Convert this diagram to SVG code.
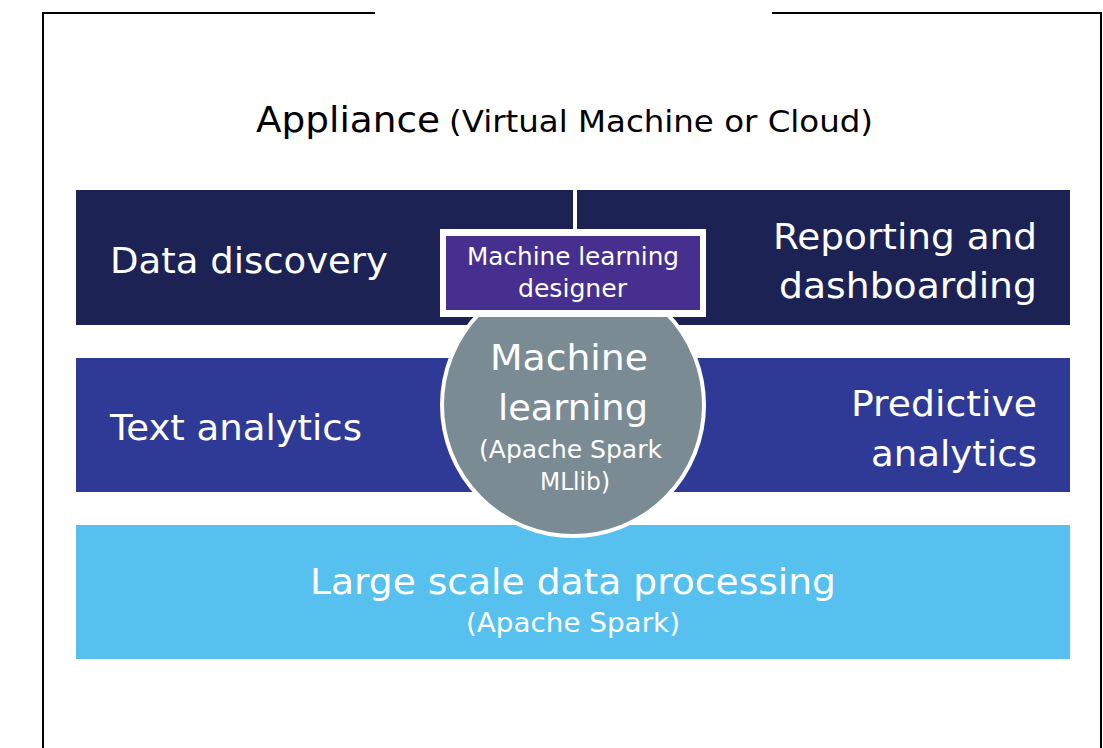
<svg xmlns="http://www.w3.org/2000/svg" width="1103" height="748" viewBox="0 0 1103 748">
<style>
.t{font-family:"DejaVu Sans","Liberation Sans",Arial,sans-serif;fill:#ffffff}
.k{font-family:"DejaVu Sans","Liberation Sans",Arial,sans-serif;fill:#000000}
.frame{stroke:#000;stroke-width:2;fill:none}
</style>
<rect width="1103" height="748" fill="#ffffff"/>
<g id="frame">
<path class="frame" d="M43,748 V13 H375"/>
<path class="frame" d="M772,13 H1101 V748"/>
</g>
<g id="title">
<text class="k" x="256" y="132" font-size="36" textLength="184" lengthAdjust="spacingAndGlyphs">Appliance</text>
<text class="k" x="449" y="132" font-size="30" textLength="424" lengthAdjust="spacingAndGlyphs">(Virtual Machine or Cloud)</text>
</g>
<g id="data-discovery">
<rect x="76" y="190" width="497" height="135" fill="#1c2254"/>
<text class="t" x="110" y="273" font-size="36" textLength="278" lengthAdjust="spacingAndGlyphs">Data discovery</text>
</g>
<g id="reporting">
<rect x="577" y="190" width="493" height="135" fill="#1c2254"/>
<text class="t" x="773" y="249" font-size="36" textLength="264" lengthAdjust="spacingAndGlyphs">Reporting and</text>
<text class="t" x="779" y="298" font-size="36" textLength="258" lengthAdjust="spacingAndGlyphs">dashboarding</text>
</g>
<g id="text-analytics">
<rect x="76" y="358" width="497" height="134" fill="#2e3a96"/>
<text class="t" x="110" y="440" font-size="36" textLength="252" lengthAdjust="spacingAndGlyphs">Text analytics</text>
</g>
<g id="predictive">
<rect x="573" y="358" width="497" height="134" fill="#2e3a96"/>
<text class="t" x="851" y="416" font-size="36" textLength="186" lengthAdjust="spacingAndGlyphs">Predictive</text>
<text class="t" x="871" y="466" font-size="36" textLength="166" lengthAdjust="spacingAndGlyphs">analytics</text>
</g>
<g id="large-scale">
<rect x="76" y="525" width="994" height="134" fill="#56c1ef"/>
<text class="t" x="310" y="594" font-size="36" textLength="526" lengthAdjust="spacingAndGlyphs">Large scale data processing</text>
<text class="t" x="466" y="632" font-size="26" textLength="214" lengthAdjust="spacingAndGlyphs">(Apache Spark)</text>
</g>
<g id="machine-learning">
<circle cx="573" cy="405" r="131" fill="#7b8b94" stroke="#ffffff" stroke-width="4"/>
<text class="t" x="490" y="370" font-size="36" textLength="158" lengthAdjust="spacingAndGlyphs">Machine</text>
<text class="t" x="498" y="420" font-size="36" textLength="150" lengthAdjust="spacingAndGlyphs">learning</text>
<text class="t" x="479" y="458" font-size="25" textLength="183" lengthAdjust="spacingAndGlyphs">(Apache Spark</text>
<text class="t" x="540" y="490" font-size="25" textLength="70" lengthAdjust="spacingAndGlyphs">MLlib)</text>
</g>
<g id="ml-designer">
<rect x="440" y="229" width="266" height="88" fill="#ffffff"/>
<rect x="446" y="236" width="254" height="74" fill="#472f8f"/>
<text class="t" x="467" y="265" font-size="24" textLength="212" lengthAdjust="spacingAndGlyphs">Machine learning</text>
<text class="t" x="518" y="297" font-size="24" textLength="109" lengthAdjust="spacingAndGlyphs">designer</text>
</g>
<g id="connectors"></g>
</svg>
